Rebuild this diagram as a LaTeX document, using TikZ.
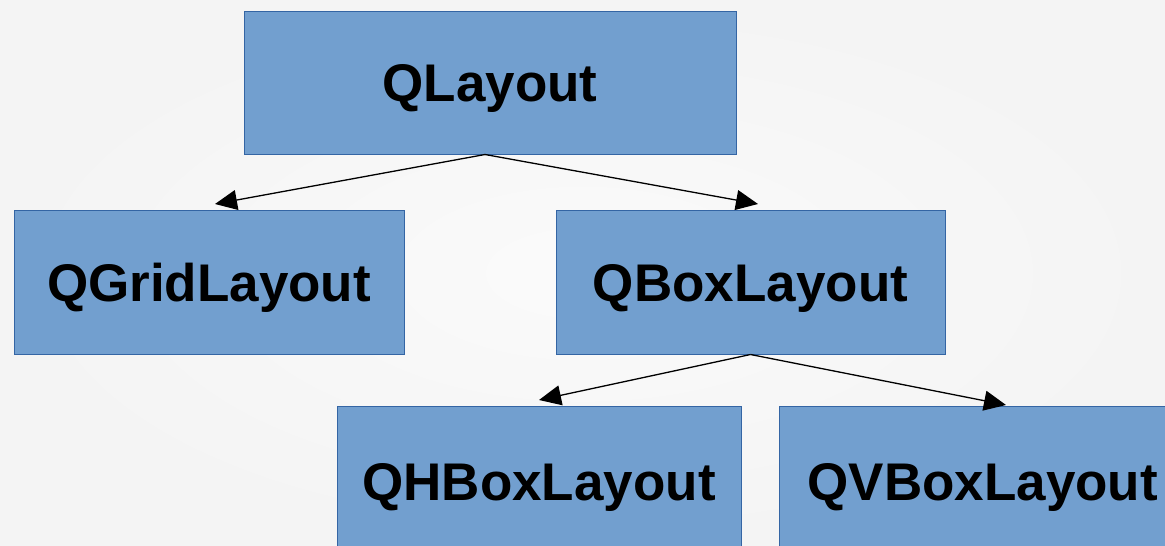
\documentclass[tikz,border=0pt]{standalone}
\usepackage{fontspec}
\setmainfont{Liberation Sans}
\usetikzlibrary{arrows.meta,calc}
\definecolor{bg}{HTML}{F4F4F4}
\definecolor{boxfill}{HTML}{729FCF}
\definecolor{boxline}{HTML}{3465A4}
\tikzset{
  lbl/.style={font=\fontsize{53}{60}\selectfont\bfseries, text=black, text height=38pt, text depth=0pt},
  cls/.style={draw=boxline, fill=boxfill, line width=1pt, rectangle, inner sep=0pt, lbl},
  inh/.style={line width=1.3pt, -{Triangle[length=22pt,width=20pt]}}
}
\begin{document}
\begin{tikzpicture}[x=1pt,y=-1pt]
\useasboundingbox (0,0) rectangle (1165,546);
\clip (0,0) rectangle (1165,546);
\shade[inner color=white!60!bg, outer color=bg] (0,0) rectangle (1165,546);
\node[cls, minimum width=492pt, minimum height=143pt] (ql) at (490,82.5) {QLayout};
\node[cls, minimum width=390pt, minimum height=144pt] (qg) at (209,282) {QGridLayout};
\node[cls, minimum width=389pt, minimum height=144pt] (qb) at (750.5,282) {QBoxLayout};
\node[cls, minimum width=404pt, minimum height=180pt] (qh) at (539,496) {};
\node[cls, minimum width=400pt, minimum height=180pt] (qv) at (979,496) {};
\node[lbl] (qht) at (539,481) {QHBoxLayout};
\node[lbl, anchor=west] (qvt) at (804,481) {QVBoxLayout};
\coordinate (s1) at ($(ql.south)+(-5,0)$);
\coordinate (t1) at (215,204);
\coordinate (t2) at (758,204);
\coordinate (t3) at (539,400);
\coordinate (t4) at (1006,405);
\draw[inh] (s1) -- (t1);
\draw[inh] (s1) -- (t2);
\draw[inh] (qb.south) -- (t3);
\draw[inh] (qb.south) -- (t4);
\end{tikzpicture}
\end{document}
